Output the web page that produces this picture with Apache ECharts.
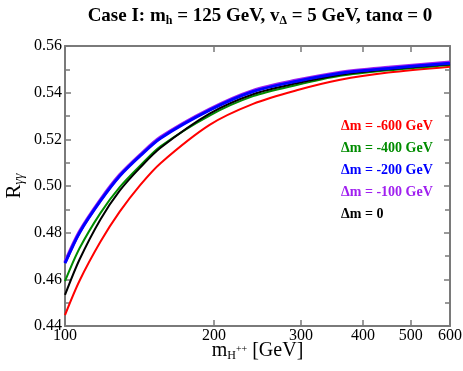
<!DOCTYPE html>
<html>
<head>
<meta charset="utf-8">
<script src="https://cdn.jsdelivr.net/npm/echarts@6/dist/echarts.min.js"></script>
<style>
  html, body { margin: 0; padding: 0; background: #fff; }
  #chart { width: 463px; height: 371px; }
</style>
</head>
<body>
<div id="chart"></div>
<script>
// m_H++ values (GeV)
const massH = [100, 107, 118, 129, 142, 156, 196, 240, 294, 360, 450, 600];

// R_gamma-gamma for each delta m
const dm600 = [0.4447, 0.4594, 0.4762, 0.4890, 0.5005, 0.5098, 0.5262, 0.5352, 0.5410, 0.5455, 0.5486, 0.5511];
const dm400 = [0.4592, 0.4733, 0.4885, 0.4995, 0.5088, 0.5170, 0.5302, 0.5385, 0.5433, 0.5472, 0.5496, 0.5519];
const dm200 = [0.4669, 0.4800, 0.4937, 0.5043, 0.5130, 0.5205, 0.5325, 0.5405, 0.5449, 0.5483, 0.5504, 0.5526];
const dm100 = [0.4673, 0.4804, 0.4941, 0.5047, 0.5134, 0.5209, 0.5329, 0.5409, 0.5453, 0.5487, 0.5508, 0.5530];
const dm0   = [0.4533, 0.4685, 0.4858, 0.4980, 0.5080, 0.5164, 0.5310, 0.5393, 0.5440, 0.5477, 0.5500, 0.5522];

const xTicks = [100, 200, 300, 400, 500, 600];

const font = 'Liberation Serif';
const axisColor = '#7a7a7a';

var chart = echarts.init(document.getElementById('chart'));

function pairs(ys) {
  return massH.map((m, i) => [m, ys[i]]);
}

const seriesDefs = [
  { name: 'Δm = -600 GeV', data: dm600, color: '#ff0000', width: 2, z: 2 },
  { name: 'Δm = -400 GeV', data: dm400, color: '#008c00', width: 2, z: 3 },
  { name: 'Δm = 0', data: dm0, color: '#000000', width: 2, z: 4 },
  { name: 'Δm = -100 GeV', data: dm100, color: '#a020f0', width: 3.5, z: 5 },
  { name: 'Δm = -200 GeV', data: dm200, color: '#0000ff', width: 3, z: 6 }
];

const legendOrder = ['Δm = -600 GeV', 'Δm = -400 GeV', 'Δm = -200 GeV', 'Δm = -100 GeV', 'Δm = 0'];
const legendColor = {
  'Δm = -600 GeV': '#ff0000',
  'Δm = -400 GeV': '#008c00',
  'Δm = -200 GeV': '#0000ff',
  'Δm = -100 GeV': '#a020f0',
  'Δm = 0': '#000000'
};

const xBase = {
  type: 'log',
  min: 100,
  max: 600,
  axisLine: { show: true, lineStyle: { color: axisColor, width: 2 } },
  axisTick: { show: true, inside: true, length: 6, customValues: xTicks, lineStyle: { color: axisColor, width: 1.5 } },
  splitLine: { show: false },
  minorTick: { show: false }
};

const yBase = {
  type: 'value',
  min: 0.44,
  max: 0.56,
  interval: 0.02,
  axisLine: { show: true, lineStyle: { color: axisColor, width: 2 } },
  axisTick: { show: true, inside: true, length: 6, lineStyle: { color: axisColor, width: 1.5 } },
  minorTick: { show: true, splitNumber: 2, length: 5, lineStyle: { color: axisColor, width: 1.5 } },
  splitLine: { show: false }
};

const option = {
  animation: false,
  backgroundColor: '#fff',
  title: {
    text: 'Case I: m{sub|h} = 125 GeV, v{sub|Δ} = 5 GeV, tanα = 0',
    left: 255,
    textAlign: 'center',
    top: 0,
    textStyle: {
      fontFamily: font, fontSize: 19, fontWeight: 'bold', color: '#000',
      rich: {
        sub: { fontFamily: font, fontSize: 12, fontWeight: 'bold', padding: [10, 0, 0, 0] }
      }
    }
  },
  grid: { left: 65, right: 13, top: 46, bottom: 45, outerBoundsMode: 'none' },
  legend: {
    orient: 'vertical',
    left: 331,
    top: 114,
    icon: 'none',
    itemWidth: 0,
    itemHeight: 12,
    itemGap: 8,
    selectedMode: false,
    data: legendOrder.map(n => ({
      name: n,
      textStyle: { color: legendColor[n], fontFamily: font, fontSize: 14, fontWeight: 'bold' }
    }))
  },
  xAxis: [
    Object.assign({}, xBase, {
      position: 'bottom',
      name: 'm{sub|H}{sup|++} [GeV]',
      nameLocation: 'middle',
      nameMoveOverlap: false,
      nameGap: 14,
      nameTextStyle: {
        fontFamily: font, fontSize: 20, color: '#000',
        rich: {
          sub: { fontFamily: font, fontSize: 12, padding: [10, 0, 0, 0] },
          sup: { fontFamily: font, fontSize: 10, padding: [0, 0, 4, 0] }
        }
      },
      axisLabel: {
        show: true, customValues: xTicks, margin: 2,
        fontFamily: font, fontSize: 16, color: '#000'
      }
    }),
    Object.assign({}, xBase, {
      position: 'top',
      axisLabel: { show: false }
    })
  ],
  yAxis: [
    Object.assign({}, yBase, {
      position: 'left',
      name: 'R{sub|γγ}',
      nameLocation: 'middle',
      nameMoveOverlap: false,
      nameGap: 39,
      nameRotate: 90,
      nameTextStyle: {
        fontFamily: font, fontSize: 21, color: '#000',
        rich: {
          sub: { fontFamily: font, fontSize: 14, fontStyle: 'italic', padding: [9, 0, 0, 0] }
        }
      },
      axisLabel: {
        show: true, margin: 3,
        fontFamily: font, fontSize: 16, color: '#000',
        formatter: v => v.toFixed(2)
      }
    }),
    Object.assign({}, yBase, {
      position: 'right',
      axisLabel: { show: false }
    })
  ],
  series: seriesDefs.map(s => ({
    name: s.name,
    type: 'line',
    data: pairs(s.data),
    smooth: 0.3,
    showSymbol: false,
    symbol: 'none',
    z: s.z,
    itemStyle: { color: s.color },
    lineStyle: { color: s.color, width: s.width }
  }))
};

chart.setOption(option);
</script>
</body>
</html>
